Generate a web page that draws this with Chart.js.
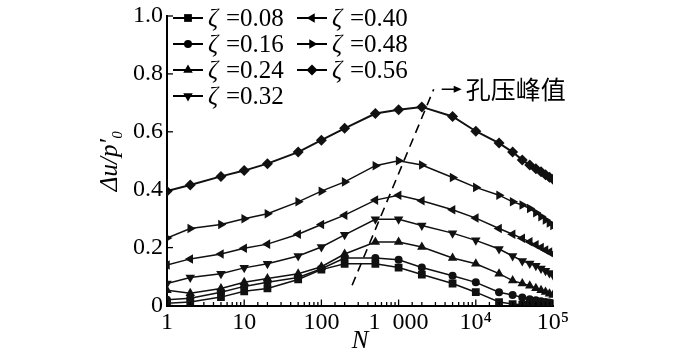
<!DOCTYPE html>
<html>
<head>
<meta charset="utf-8">
<script src="https://cdn.jsdelivr.net/npm/chart.js@4.4.0/dist/chart.umd.min.js"></script>
<style>
html, body { margin: 0; padding: 0; background: #fff; }
</style>
</head>
<body>
<canvas id="graficoPresion" width="700" height="354"></canvas>
<script>
// numero de ciclos N (eje x, logaritmico)
var ciclos = [1, 2, 5, 10, 20, 50, 100, 200, 500, 1000, 2000, 5000,
              10000, 20000, 30000, 40000, 50000, 60000, 70000, 80000, 90000, 100000];

// etiquetas de la leyenda
var zetas = ['0.08', '0.16', '0.24', '0.32', '0.40', '0.48', '0.56'];

// Δu/p'0 para cada zeta
var z008 = [0.008, 0.012, 0.029, 0.049, 0.059, 0.090, 0.124, 0.144, 0.144, 0.131, 0.107, 0.076,
            0.046, 0.012, 0.005, 0.003, 0.002, 0.002, 0.001, 0.001, 0.001, 0.001];
var z016 = [0.020, 0.025, 0.046, 0.066, 0.080, 0.097, 0.127, 0.164, 0.164, 0.158, 0.131, 0.103,
            0.080, 0.046, 0.036, 0.028, 0.022, 0.018, 0.015, 0.012, 0.010, 0.008];
var z024 = [0.053, 0.042, 0.059, 0.080, 0.093, 0.110, 0.134, 0.178, 0.219, 0.219, 0.202, 0.164,
            0.144, 0.110, 0.086, 0.076, 0.068, 0.060, 0.053, 0.047, 0.041, 0.036];
var z032 = [0.076, 0.097, 0.110, 0.130, 0.144, 0.171, 0.202, 0.244, 0.298, 0.298, 0.276, 0.250,
            0.225, 0.195, 0.171, 0.154, 0.145, 0.137, 0.128, 0.120, 0.112, 0.105];
var z040 = [0.140, 0.161, 0.178, 0.198, 0.212, 0.246, 0.280, 0.312, 0.364, 0.381, 0.362, 0.331,
            0.302, 0.266, 0.246, 0.232, 0.220, 0.210, 0.200, 0.192, 0.185, 0.178];
var z048 = [0.233, 0.266, 0.280, 0.300, 0.317, 0.358, 0.395, 0.427, 0.483, 0.500, 0.485, 0.442,
            0.408, 0.381, 0.358, 0.347, 0.335, 0.320, 0.307, 0.295, 0.285, 0.276];
var z056 = [0.395, 0.416, 0.446, 0.466, 0.490, 0.530, 0.571, 0.612, 0.663, 0.676, 0.686, 0.653,
            0.602, 0.561, 0.530, 0.503, 0.485, 0.472, 0.462, 0.452, 0.443, 0.436];

// linea de picos de presion de poros (discontinua)
var picoN = [250, 2850];
var picoU = [0.07, 0.747];

// etiquetas del eje x
var etiquetasN = {1: '1', 10: '10', 100: '100', 1000: '1\u2002000', 10000: '10\u2074', 100000: '10\u2075'};
var textoPico = '孔压峰值';

var series = [z008, z016, z024, z032, z040, z048, z056];
var estilos = ['rect', 'circle', 'triangle', 'triangle', 'triangle', 'triangle', 'rectRot'];
var giros = [0, 0, 0, 180, -90, 90, 0];
var radios = [5.5, 4, 5.5, 5.5, 5.5, 5.5, 5.5];

var fuente = '"Liberation Serif", "Times New Roman", serif';

function puntos(xs, ys) {
    return xs.map(function (x, i) { return {x: x, y: ys[i]}; });
}

// marcas de los ejes hacia adentro
var marcasInternas = {
    id: 'marcasInternas',
    afterDraw: function (chart) {
        var ctx = chart.ctx;
        var area = chart.chartArea;
        var sx = chart.scales.x, sy = chart.scales.y;
        ctx.save();
        ctx.strokeStyle = '#000';
        ctx.lineWidth = 1.3;
        sx.ticks.forEach(function (t) {
            var px = sx.getPixelForValue(t.value);
            var l = Math.log10(t.value);
            var mayor = Math.abs(l - Math.round(l)) < 1e-9;
            ctx.beginPath();
            ctx.moveTo(px, area.bottom);
            ctx.lineTo(px, area.bottom - (mayor ? 6 : 3.5));
            ctx.stroke();
        });
        sy.ticks.forEach(function (t) {
            var py = sy.getPixelForValue(t.value);
            ctx.beginPath();
            ctx.moveTo(area.left, py);
            ctx.lineTo(area.left + 6, py);
            ctx.stroke();
        });
        ctx.restore();
    }
};

// leyenda en dos columnas y nota del pico
var leyenda = {
    id: 'leyenda',
    afterDraw: function (chart) {
        var ctx = chart.ctx;
        var filas = [18, 44, 70, 96];
        ctx.save();
        chart.data.datasets.forEach(function (ds, i) {
            if (i > 6) return;
            var col = i < 4 ? 0 : 1;
            var y = filas[col === 0 ? i : i - 4];
            var x0 = col === 0 ? 173 : 297;
            ctx.strokeStyle = '#000';
            ctx.lineWidth = 2;
            ctx.beginPath();
            ctx.moveTo(x0, y);
            ctx.lineTo(x0 + 30, y);
            ctx.stroke();
            ctx.fillStyle = '#000';
            Chart.helpers.drawPoint(ctx, {
                pointStyle: ds.pointStyle,
                rotation: ds.pointRotation,
                radius: ds.pointRadius,
                borderWidth: 0
            }, x0 + 15, y);
            ctx.textBaseline = 'middle';
            ctx.textAlign = 'left';
            ctx.font = 'italic 25px ' + fuente;
            ctx.fillText('\u03b6', x0 + 35, y + 1);
            ctx.font = '25px ' + fuente;
            ctx.fillText('=' + zetas[i], x0 + 53, y + 1);
        });

        // flecha y texto del pico
        var fin = chart.getDatasetMeta(7).data[1];
        var ax = fin.x + 8, ay = fin.y;
        ctx.strokeStyle = '#000';
        ctx.lineWidth = 1.5;
        ctx.beginPath();
        ctx.moveTo(ax, ay);
        ctx.lineTo(ax + 14, ay);
        ctx.stroke();
        ctx.beginPath();
        ctx.moveTo(ax + 20, ay);
        ctx.lineTo(ax + 12, ay - 3.5);
        ctx.lineTo(ax + 12, ay + 3.5);
        ctx.closePath();
        ctx.fill();
        ctx.font = '25px "Noto Sans CJK SC", sans-serif';
        ctx.textBaseline = 'middle';
        ctx.fillText(textoPico, ax + 24, ay);
        ctx.restore();
    }
};

function graficoPresion() {
    var datasets = series.map(function (s, i) {
        return {
            label: '\u03b6=' + zetas[i],
            data: puntos(ciclos, s),
            borderColor: '#111',
            backgroundColor: '#111',
            borderWidth: i === 6 ? 2 : 1.5,
            pointStyle: estilos[i],
            pointRotation: giros[i],
            pointRadius: radios[i],
            pointBorderWidth: 0,
            pointBackgroundColor: '#111',
            tension: 0
        };
    });
    datasets.push({
        label: textoPico,
        data: puntos(picoN, picoU),
        borderColor: '#000',
        borderWidth: 1.6,
        borderDash: [9, 6],
        pointRadius: 0
    });

    var ctx = document.getElementById('graficoPresion').getContext('2d');
    var chart = new Chart(ctx, {
        type: 'line',
        data: { datasets: datasets },
        plugins: [marcasInternas, leyenda],
        options: {
            responsive: false,
            animation: false,
            devicePixelRatio: 1,
            layout: { autoPadding: false, padding: { left: 0, top: 11, right: 147, bottom: 0 } },
            plugins: { legend: { display: false }, tooltip: { enabled: false } },
            scales: {
                x: {
                    type: 'logarithmic',
                    min: 1,
                    max: 100000,
                    grid: { display: false, drawTicks: false },
                    border: { display: true, color: '#000', width: 2 },
                    ticks: {
                        autoSkip: false,
                        maxRotation: 0,
                        padding: 5,
                        color: '#000',
                        font: { family: fuente, size: 24, lineHeight: 1 },
                        callback: function (v) { return etiquetasN[v] || ''; }
                    },
                    title: {
                        display: true,
                        text: 'N',
                        color: '#000',
                        font: { family: fuente, size: 25, style: 'italic', lineHeight: 1 },
                        padding: { top: 0, bottom: 0 }
                    },
                    afterFit: function (s) { s.height = 48.5; }
                },
                y: {
                    min: 0,
                    max: 1,
                    grid: { display: false, drawTicks: false },
                    border: { display: true, color: '#000', width: 2 },
                    ticks: {
                        stepSize: 0.2,
                        padding: 4,
                        color: '#000',
                        font: { family: fuente, size: 24, lineHeight: 1 },
                        callback: function (v) { return v === 0 ? '0' : v.toFixed(1); }
                    },
                    title: {
                        display: true,
                        text: '\u0394u/p\u2032\u2080',
                        color: '#000',
                        font: { family: fuente, size: 25, style: 'italic', lineHeight: 1 },
                        padding: { top: 98, bottom: 0 }
                    },
                    afterFit: function (s) { s.width = 167; }
                }
            }
        }
    });
}

// esperar a que las fuentes locales esten listas
Promise.all([
    document.fonts.load('24px "Liberation Serif"'),
    document.fonts.load('italic 24px "Liberation Serif"'),
    document.fonts.load('25px "Noto Sans CJK SC"')
]).then(graficoPresion, graficoPresion);
</script>
</body>
</html>
